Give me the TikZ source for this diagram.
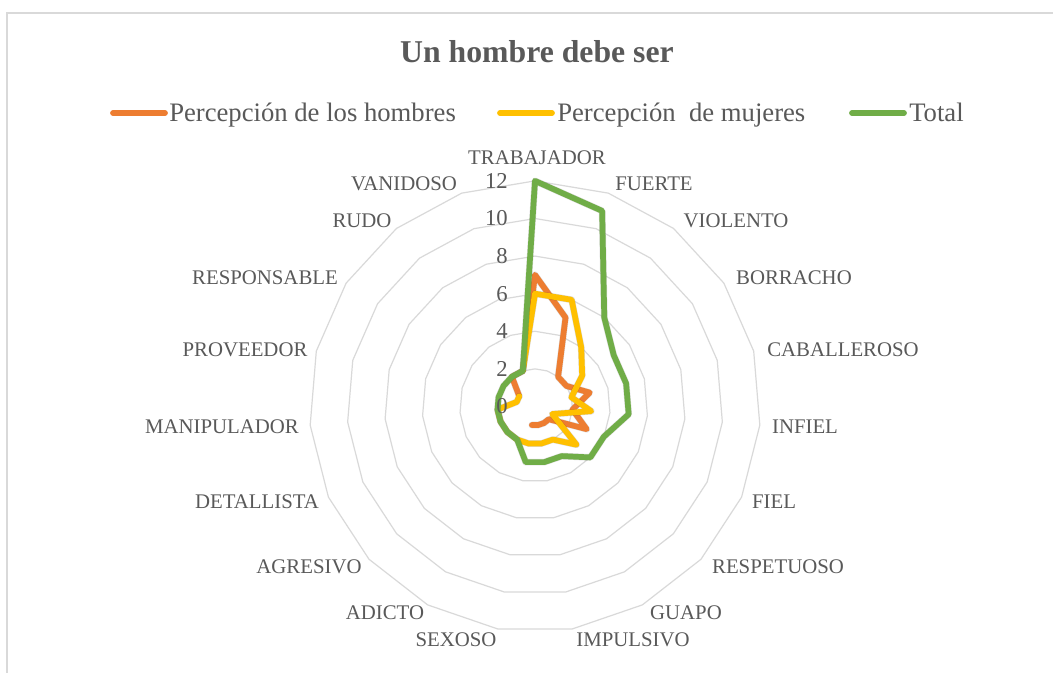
\documentclass[tikz,border=0pt]{standalone}
\usepackage{fontspec}
\setmainfont{Liberation Serif}
\definecolor{serA}{HTML}{ED7D31}
\definecolor{serB}{HTML}{FFC000}
\definecolor{serC}{HTML}{70AD47}
\definecolor{txtgray}{HTML}{595959}
\definecolor{gridgray}{HTML}{D9D9D9}
\begin{document}
\begin{tikzpicture}[x=0.75pt,y=0.75pt,
  cat/.style={text=txtgray,font=\fontsize{15.6}{18}\selectfont,inner sep=0pt},
  num/.style={text=txtgray,font=\fontsize{17}{20}\selectfont,inner sep=0pt,anchor=east},
  serline/.style={line width=4.3pt,line cap=round,line join=round},
  shadowline/.style={line width=5pt,line cap=round,line join=round,black,opacity=0.14},
  legtext/.style={text=txtgray,font=\fontsize{20}{24}\selectfont,anchor=base west,inner sep=0pt},
  legline/.style={line width=4.3pt,line cap=round}]
\useasboundingbox (0,0) rectangle (1053,673);
\fill[white] (0,0) rectangle (1053,673);
\draw[gridgray,line width=1.2pt] (7,-5) -- (7,660) -- (1060,660);
% title
\node[text=txtgray,font=\fontsize{23.8}{28}\selectfont\bfseries,anchor=base,inner sep=0pt] (title) at (537,610) {Un hombre debe ser};
% legend
\coordinate (la1) at (113,560); \coordinate (la2) at (165,560);
\coordinate (lb1) at (500,560); \coordinate (lb2) at (552,560);
\coordinate (lc1) at (852,560); \coordinate (lc2) at (904,560);
\draw[legline,serA] (la1) -- (la2);
\draw[legline,serB] (lb1) -- (lb2);
\draw[legline,serC] (lc1) -- (lc2);
\node[legtext] (lta) at (169,551) {Percepción de los hombres};
\node[legtext] (ltb) at (557,551) {Percepción\ \ de mujeres};
\node[legtext] (ltc) at (909,551) {Total};
\begin{scope}[shift={(535,266.5)}]
  % grid rings
  \foreach \r in {2,4,...,12} {
    \draw[gridgray,line width=0.9pt] (90:\r*18.8)
      \foreach \k in {1,...,18}{ -- ({90-\k*360/19}:\r*18.8)} -- cycle;
  }
  % data points
  \foreach \k/\v in {0/12,1/11,2/6,3/5,4/5,5/5,6/4,7/4,8/3,9/3,10/3,11/2,12/2,13/2,14/2,15/2,16/2,17/2,18/2}
    \coordinate (g\k) at ({90-\k*360/19}:{\v*18.8});
  \foreach \k/\v in {16/1,17/2,18/2,0/7,1/5,2/2,3/2,4/3,5/2,6/3,7/1,8/1,9/1,10/1}
    \coordinate (o\k) at ({90-\k*360/19}:{\v*18.8});
  \foreach \k/\v in {18/2,0/6,1/6,2/4,3/3,4/2,5/3,6/1,7/3,8/2,9/2,10/2,11/2,12/2,13/2,14/2,15/1,16/1}
    \coordinate (y\k) at ({90-\k*360/19}:{\v*18.8});
  % orange
  \begin{scope}[shift={(1.5,-2.5)}]
    \draw[shadowline] (o16) -- (o17) -- (o18) \foreach \k in {0,...,10}{ -- (o\k)};
  \end{scope}
  \draw[serline,serA] (o16) -- (o17) -- (o18) \foreach \k in {0,...,10}{ -- (o\k)};
  % yellow
  \begin{scope}[shift={(1.5,-2.5)}]
    \draw[shadowline] (y18) \foreach \k in {0,...,16}{ -- (y\k)};
  \end{scope}
  \draw[serline,serB] (y18) \foreach \k in {0,...,16}{ -- (y\k)};
  % green
  \begin{scope}[shift={(1.5,-2.5)}]
    \draw[shadowline] (g0) \foreach \k in {1,...,18}{ -- (g\k)} -- cycle;
  \end{scope}
  \draw[serline,serC] (g0) \foreach \k in {1,...,18}{ -- (g\k)} -- cycle;
  % axis numbers
  \foreach \v in {0,2,...,12}
    \node[num] (n\v) at (-27,\v*18.8) {\v};
\end{scope}
% category labels
\node[cat] (c0) at (537,515) {TRABAJADOR};
\node[cat] (c1) at (654,489) {FUERTE};
\node[cat] (c2) at (736,452) {VIOLENTO};
\node[cat] (c3) at (794,395) {BORRACHO};
\node[cat] (c4) at (843,323) {CABALLEROSO};
\node[cat] (c5) at (805,246) {INFIEL};
\node[cat] (c6) at (774,171) {FIEL};
\node[cat] (c7) at (778,106) {RESPETUOSO};
\node[cat] (c8) at (686,60) {GUAPO};
\node[cat] (c9) at (633,33) {IMPULSIVO};
\node[cat] (c10) at (456,33) {SEXOSO};
\node[cat] (c11) at (385,60) {ADICTO};
\node[cat] (c12) at (309,106) {AGRESIVO};
\node[cat] (c13) at (257,171) {DETALLISTA};
\node[cat] (c14) at (222,246) {MANIPULADOR};
\node[cat] (c15) at (245,323) {PROVEEDOR};
\node[cat] (c16) at (265,395) {RESPONSABLE};
\node[cat] (c17) at (362,452) {RUDO};
\node[cat] (c18) at (404,489) {VANIDOSO};
\end{tikzpicture}
\end{document}
